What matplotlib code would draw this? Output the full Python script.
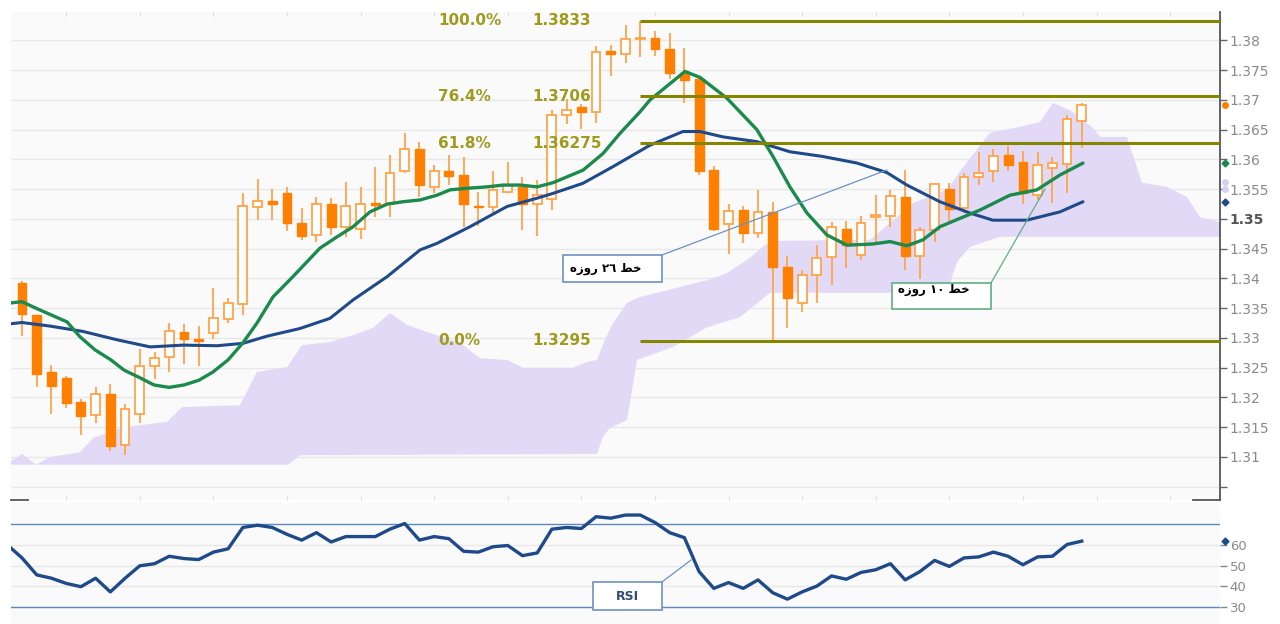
import numpy as np
import matplotlib
matplotlib.use('Agg')
import matplotlib.pyplot as plt
from matplotlib.patches import Rectangle

# daily candles, index 0 = first full candle at the left edge
opens = [1.3392, 1.3339, 1.3242, 1.3232, 1.3193, 1.3171, 1.3206, 1.3120, 1.3173, 1.3253,
         1.3268, 1.3310, 1.3299, 1.3308, 1.3332, 1.3357, 1.3520, 1.3530, 1.3543, 1.3493,
         1.3473, 1.3526, 1.3487, 1.3484, 1.3527, 1.3526, 1.3580, 1.3617, 1.3553, 1.3581,
         1.3574, 1.3522, 1.3520, 1.3546, 1.3554, 1.3525, 1.3533, 1.3675, 1.3688, 1.3680,
         1.3783, 1.3777, 1.3802, 1.3804, 1.3785, 1.3746, 1.3736, 1.3582, 1.3492, 1.3515,
         1.3476, 1.3512, 1.3419, 1.3358, 1.3406, 1.3436, 1.3483, 1.3440, 1.3504, 1.3505,
         1.3537, 1.3437, 1.3482, 1.3550, 1.3518, 1.3571, 1.3580, 1.3608, 1.3595, 1.3540,
         1.3586, 1.3592, 1.3665]
highs = [1.3396, 1.3339, 1.3255, 1.3236, 1.3197, 1.3217, 1.3222, 1.3189, 1.3281, 1.3277,
         1.3325, 1.3324, 1.3320, 1.3384, 1.3368, 1.3543, 1.3568, 1.3550, 1.3554, 1.3518,
         1.3537, 1.3535, 1.3563, 1.3554, 1.3588, 1.3608, 1.3645, 1.3630, 1.3591, 1.3608,
         1.3605, 1.3546, 1.3581, 1.3596, 1.3571, 1.3566, 1.3683, 1.3701, 1.3694, 1.3791,
         1.3792, 1.3826, 1.3833, 1.3816, 1.3813, 1.3787, 1.3736, 1.3589, 1.3525, 1.3522,
         1.3548, 1.3529, 1.3438, 1.3415, 1.3456, 1.3495, 1.3497, 1.3505, 1.3540, 1.3548,
         1.3582, 1.3487, 1.3561, 1.3560, 1.3577, 1.3613, 1.3617, 1.3623, 1.3615, 1.3613,
         1.3605, 1.3675, 1.3695]
lows = [1.3303, 1.3218, 1.3172, 1.3183, 1.3137, 1.3157, 1.3110, 1.3103, 1.3157, 1.3231,
        1.3243, 1.3256, 1.3253, 1.3298, 1.3325, 1.3339, 1.3499, 1.3498, 1.3480, 1.3464,
        1.3462, 1.3473, 1.3470, 1.3466, 1.3504, 1.3504, 1.3577, 1.3537, 1.3543, 1.3557,
        1.3487, 1.3488, 1.3510, 1.3544, 1.3482, 1.3471, 1.3515, 1.3659, 1.3651, 1.3661,
        1.3740, 1.3763, 1.3773, 1.3774, 1.3735, 1.3695, 1.3574, 1.3480, 1.3441, 1.3460,
        1.3468, 1.3295, 1.3317, 1.3344, 1.3359, 1.3389, 1.3417, 1.3431, 1.3459, 1.3487,
        1.3415, 1.3399, 1.3462, 1.3493, 1.3510, 1.3557, 1.3563, 1.3580, 1.3526, 1.3532,
        1.3527, 1.3543, 1.3619]
closes = [1.3340, 1.3239, 1.3219, 1.3190, 1.3169, 1.3206, 1.3118, 1.3180, 1.3253, 1.3266,
          1.3312, 1.3299, 1.3295, 1.3334, 1.3358, 1.3521, 1.3530, 1.3526, 1.3493, 1.3472,
          1.3526, 1.3487, 1.3521, 1.3526, 1.3524, 1.3577, 1.3617, 1.3557, 1.3580, 1.3573,
          1.3525, 1.3520, 1.3549, 1.3557, 1.3525, 1.3540, 1.3675, 1.3684, 1.3680, 1.3780,
          1.3777, 1.3802, 1.3804, 1.3785, 1.3745, 1.3734, 1.3580, 1.3484, 1.3514, 1.3476,
          1.3512, 1.3419, 1.3368, 1.3406, 1.3434, 1.3486, 1.3456, 1.3494, 1.3507, 1.3539,
          1.3437, 1.3482, 1.3559, 1.3516, 1.3571, 1.3578, 1.3606, 1.3590, 1.3544, 1.3590,
          1.3594, 1.3668, 1.3692]

# 10 day line (green) as (candle index, price)
ma10_x = [-0.75, 0, 0.95, 3.06, 3.94, 4.96, 6.05, 6.93, 8.02, 8.97,
          9.99, 11.0, 12.02, 12.98, 13.99, 15.01, 15.96, 17.05, 18.4, 20.24,
          21.4, 22.49, 23.64, 24.8, 25.88, 27.04, 28.19, 29.08, 30.43, 31.59,
          32.68, 33.83, 35.0, 36.07, 38.11, 39.47, 40.63, 41.98, 42.66, 45.04,
          46.06, 47.89, 49.93, 51.02, 52.17, 53.33, 54.69, 56.05, 57.81, 58.97,
          60.12, 61.21, 62.36, 63.72, 65.08, 67.12, 68.95, 70.52, 72.08]
ma10_y = [1.3359, 1.3361, 1.3350, 1.3327, 1.3302, 1.3280, 1.3263, 1.3246, 1.3233, 1.3221,
          1.3217, 1.3221, 1.3229, 1.3243, 1.3263, 1.3292, 1.3325, 1.3369, 1.3403, 1.3451,
          1.3470, 1.3487, 1.3512, 1.3525, 1.3529, 1.3532, 1.3540, 1.3549, 1.3552, 1.3554,
          1.3557, 1.3557, 1.3554, 1.3561, 1.3582, 1.3610, 1.3644, 1.3680, 1.3700, 1.3748,
          1.3738, 1.3703, 1.3650, 1.3605, 1.3554, 1.3510, 1.3473, 1.3456, 1.3458, 1.3462,
          1.3455, 1.3465, 1.3487, 1.3501, 1.3515, 1.3540, 1.3549, 1.3574, 1.3594]

# 26 day line (dark blue)
ma26_x = [-0.75, 0, 1.9, 4.14, 6.45, 8.7, 10.94, 13.25, 15.01, 16.64,
          18.89, 20.92, 22.49, 24.8, 27.04, 28.19, 30.43, 32.95, 35.0, 36.07,
          38.11, 40.15, 42.66, 44.9, 46.06, 47.62, 49.93, 52.17, 54.42, 56.73,
          58.76, 60.12, 62.36, 64.4, 65.96, 68.27, 70.52, 72.08]
ma26_y = [1.3324, 1.3326, 1.3320, 1.3311, 1.3297, 1.3285, 1.3288, 1.3287, 1.3291, 1.3303,
          1.3316, 1.3333, 1.3364, 1.3403, 1.3448, 1.3459, 1.3487, 1.3521, 1.3535, 1.3543,
          1.3560, 1.3588, 1.3624, 1.3647, 1.3647, 1.3638, 1.3630, 1.3613, 1.3605, 1.3594,
          1.3578, 1.3557, 1.3529, 1.3510, 1.3498, 1.3498, 1.3512, 1.3529]

# ichimoku cloud, upper and lower edge
cloud_top_x = [-0.75, 0, 0.95, 1.9, 3.94, 4.82, 5.98, 6.93, 9.85, 10.87,
               14.81, 15.96, 18.0, 19.02, 20.92, 22.49, 23.85, 25.0, 26.15, 27.51,
               29.76, 31.11, 32.95, 34.04, 37.43, 38.38, 39.06, 39.6, 40.15, 41.1,
               41.98, 43.34, 45.18, 46.54, 47.89, 49.25, 50.82, 57.61, 59.44, 60.53,
               62.84, 63.72, 65.76, 67.8, 69.16, 70.04, 71.2, 72.76, 73.23, 75.07,
               76.09, 77.79, 79.14, 80.03, 81.39]
cloud_top_y = [1.3093, 1.3105, 1.3087, 1.3100, 1.3108, 1.3132, 1.3142, 1.3150, 1.3159, 1.3184,
               1.3187, 1.3243, 1.3251, 1.3288, 1.3293, 1.3305, 1.3317, 1.3342, 1.3322, 1.3310,
               1.3292, 1.3266, 1.3263, 1.3250, 1.3250, 1.3260, 1.3263, 1.3297, 1.3325, 1.3359,
               1.3369, 1.3377, 1.3389, 1.3397, 1.3409, 1.3431, 1.3463, 1.3465, 1.3503, 1.3527,
               1.3549, 1.3580, 1.3645, 1.3655, 1.3663, 1.3695, 1.3683, 1.3653, 1.3638, 1.3638,
               1.3561, 1.3554, 1.3537, 1.3503, 1.3495]
cloud_bot_x = [-0.75, 18.07, 18.89, 39.06, 39.47, 39.95, 41.1, 41.78, 44.23, 46.54,
               48.78, 50.82, 62.84, 63.52, 64.4, 66.44, 81.39]
cloud_bot_y = [1.3087, 1.3087, 1.3103, 1.3105, 1.3134, 1.3149, 1.3162, 1.3263, 1.3285, 1.3318,
               1.3335, 1.3376, 1.3376, 1.3428, 1.3453, 1.3470, 1.3470]

# RSI, one value per candle starting one candle before the left edge
rsi_start = -1
rsi = [60.0,
       53.7, 45.5, 43.9, 41.4, 39.8, 43.9, 37.3, 43.9, 49.9, 50.9,
       54.5, 53.4, 52.9, 56.5, 58.1, 68.4, 69.5, 68.4, 65.1, 62.3,
       65.9, 61.4, 64.0, 64.0, 64.0, 67.6, 70.3, 62.3, 64.0, 63.0,
       56.9, 56.5, 59.1, 59.7, 54.8, 56.1, 67.6, 68.4, 67.9, 73.6,
       72.9, 74.4, 74.4, 70.8, 65.9, 63.5, 47.1, 39.0, 41.8, 39.0,
       43.1, 36.9, 33.8, 37.3, 40.1, 45.0, 43.4, 46.7, 48.0, 50.9,
       43.1, 47.1, 52.5, 49.6, 53.7, 54.2, 56.5, 54.5, 50.4, 54.2,
       54.5, 60.2, 61.8]

# fibonacci retracement
fib_pcts = ['100.0%', '76.4%', '61.8%', '0.0%']
fib_levels = [1.3833, 1.3706, 1.36275, 1.3295]
fib_texts = ['1.3833', '1.3706', '1.36275', '1.3295']
fib_start = 42

cloud_last = [1.3562, 1.3550]

price_ticks = [1.305, 1.31, 1.315, 1.32, 1.325, 1.33, 1.335, 1.34, 1.345,
               1.35, 1.355, 1.36, 1.365, 1.37, 1.375, 1.38]
price_labels = ['', '1.31', '1.315', '1.32', '1.325', '1.33', '1.335', '1.34', '1.345',
                '1.35', '1.355', '1.36', '1.365', '1.37', '1.375', '1.38']
rsi_ticks = [30, 40, 50, 60]

# persian labels, written in visual (left to right) order with joined forms
label_26 = '\ufee9\ufeaf\ufeed\ufead \u0662\u0666 \ufec2\ufea7'
label_10 = '\ufee9\ufeaf\ufeed\ufead \u0661\u0660 \ufec2\ufea7'

ORANGE = '#ff7f00'
WICK = '#ffa44a'
GREEN = '#1b8a4c'
BLUE = '#1f4a8a'
CLOUD = '#e2d9f6'
FIB = '#858500'
FIB_TXT = '#9e9b1e'
GRID = '#e8e8e8'
BG = '#fafafa'

W, H = 1280, 624
fig = plt.figure(figsize=(12.8, 6.24), dpi=100)
fig.patch.set_facecolor('white')
ax = fig.add_axes([11 / W, 1 - 500 / H, 1209 / W, 488 / H])
ax_r = fig.add_axes([11 / W, 0, 1209 / W, 122 / H])

xmin, xmax = -0.75, 81.39
n = len(closes)
idx = np.arange(n)

# ---- price panel ----
ax.set_facecolor(BG)
ax.set_xlim(xmin, xmax)
ax.set_ylim(1.30277, 1.38479)

ax.fill(cloud_top_x + cloud_bot_x[::-1], cloud_top_y + cloud_bot_y[::-1],
        color=CLOUD, lw=0, zorder=1)

ax.vlines(idx, lows, highs, color=WICK, lw=1.3, zorder=3)
bw = 0.6
for i in range(n):
    o, c = opens[i], closes[i]
    lo, hi = min(o, c), max(o, c)
    h = max(hi - lo, 0.00012)
    if c < o:
        r = Rectangle((i - bw / 2, lo), bw, h, fc=ORANGE, ec=ORANGE, lw=1, zorder=4)
    else:
        r = Rectangle((i - bw / 2, lo), bw, h, fc='white', ec=WICK, lw=1.3, zorder=4)
    ax.add_patch(r)

ax.plot(ma26_x, ma26_y, color=BLUE, lw=2.2, zorder=5, solid_capstyle='round')
ax.plot(ma10_x, ma10_y, color=GREEN, lw=2.4, zorder=5, solid_capstyle='round')

for pct, lev, txt in zip(fib_pcts, fib_levels, fib_texts):
    ax.hlines(lev, fib_start, xmax, color=FIB, lw=2.2, zorder=6)
    ax.text(28.26, lev, pct, color=FIB_TXT, fontsize=11, fontweight='bold',
            va='center', ha='left', zorder=6)
    ax.text(34.65, lev, txt, color=FIB_TXT, fontsize=11, fontweight='bold',
            va='center', ha='left', zorder=6)

# callout boxes
ax.plot([43.48, 58.76], [1.34395, 1.35824], color='#6d92c2', lw=0.9, zorder=6)
ax.add_patch(Rectangle((36.75, 1.33941), 6.73, 0.00454, fc='white', ec='#6d92c2',
                       lw=1.2, zorder=7))
ax.text(37.2, 1.34168, label_26, fontsize=8.5, fontweight='bold', color='black',
        family=['DejaVu Sans', 'Noto Sans'], va='center', ha='left', zorder=8)

ax.plot([65.83, 69.5], [1.33924, 1.35504], color='#5fae85', lw=0.9, zorder=6)
ax.add_patch(Rectangle((59.1, 1.33487), 6.73, 0.00437, fc='white', ec='#5fae85',
                       lw=1.2, zorder=7))
ax.text(59.5, 1.33810, label_10, fontsize=8.5, fontweight='bold', color='black',
        family=['DejaVu Sans', 'Noto Sans'], va='center', ha='left', zorder=8)

# axis styling
ax.yaxis.tick_right()
ax.set_yticks(price_ticks)
ax.set_yticklabels(price_labels)
ax.tick_params(axis='y', direction='out', length=5, width=1, color='#666666',
               labelcolor='#8a8a8a', labelsize=10, pad=2)
for lab in ax.get_yticklabels():
    if lab.get_text() == '1.35':
        lab.set_color('#555555')
        lab.set_fontweight('bold')
ax.set_xticks(np.arange(3, 82, 5))
ax.set_xticklabels([])
ax.tick_params(axis='x', direction='in', length=3, color='#dddddd', top=True)
ax.grid(axis='y', color=GRID, lw=1)
ax.set_axisbelow(True)
for s in ['left', 'top', 'bottom']:
    ax.spines[s].set_visible(False)
ax.spines['right'].set_color('#555555')
ax.spines['right'].set_linewidth(1.3)
ax.plot([0, 0.014], [0, 0], transform=ax.transAxes, color='#555555', lw=1.3, clip_on=False)
ax.plot([0.978, 1], [0, 0], transform=ax.transAxes, color='#555555', lw=1.3, clip_on=False)

# last value markers beside the axis
mx = 81.73
ax.plot([mx], [closes[-1]], 'o', ms=4, color=ORANGE, clip_on=False, zorder=9)
ax.plot([mx], [ma10_y[-1]], 'D', ms=3.5, color=GREEN, clip_on=False, zorder=9)
ax.plot([mx], [ma26_y[-1]], 'D', ms=3.5, color=BLUE, clip_on=False, zorder=9)
ax.plot([mx, mx], cloud_last, 'o', ms=4, color='#d9ccf5', clip_on=False, zorder=9)

# ---- RSI panel ----
ax_r.set_facecolor(BG)
ax_r.set_xlim(xmin, xmax)
ax_r.set_ylim(21.8, 80.7)
rsi_x = np.arange(rsi_start, rsi_start + len(rsi))
ax_r.axhline(70, color='#5f89bd', lw=1, zorder=2)
ax_r.axhline(30, color='#5f89bd', lw=1, zorder=2)
ax_r.plot(rsi_x, rsi, color=BLUE, lw=2.4, zorder=4)
ax_r.plot([mx], [rsi[-1]], 'D', ms=3.5, color=BLUE, clip_on=False, zorder=9)

ax_r.plot([43.48, 45.45], [42.1, 52.7], color='#6d92c2', lw=0.9, zorder=5)
ax_r.add_patch(Rectangle((38.79, 28.6), 4.69, 13.5, fc='white', ec='#6d92c2',
                         lw=1.2, zorder=6))
ax_r.text(41.13, 35.0, 'RSI', fontsize=9, fontweight='bold', color='#2f4d78',
          va='center', ha='center', zorder=7)

ax_r.yaxis.tick_right()
ax_r.set_yticks(rsi_ticks)
ax_r.tick_params(axis='y', direction='out', length=5, width=1, color='#888888',
                 labelcolor='#8a8a8a', labelsize=9.5, pad=2)
ax_r.set_xticks([])
ax_r.grid(axis='y', color=GRID, lw=1)
ax_r.set_axisbelow(True)
for s in ax_r.spines.values():
    s.set_visible(False)

fig.savefig('out.png', dpi=100)
